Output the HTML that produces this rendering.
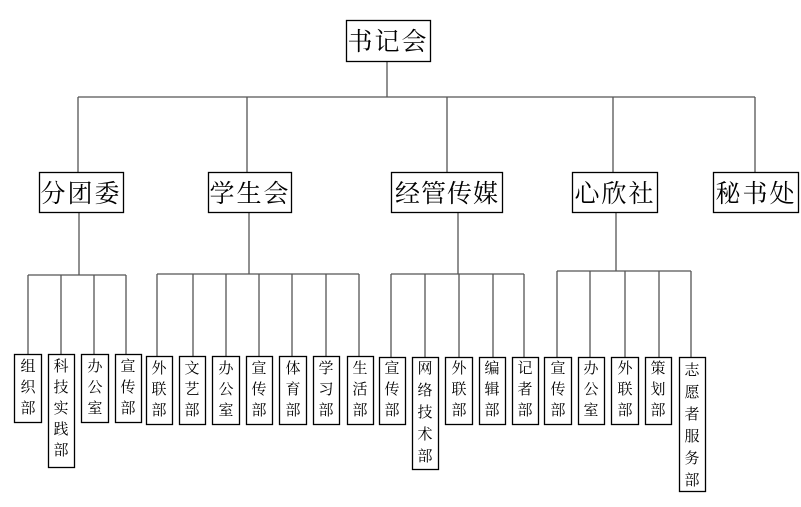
<!DOCTYPE html>
<html><head><meta charset="utf-8"><style>
html,body{margin:0;padding:0;background:#fff;width:801px;height:507px;overflow:hidden}
svg{display:block}
text{font-family:"Liberation Serif","Noto Serif CJK SC","Noto Sans CJK SC",serif;fill:#000}
</style></head><body>
<svg width="801" height="507" viewBox="0 0 801 507" xmlns="http://www.w3.org/2000/svg">
<g stroke="#555" stroke-width="1.3" fill="none">
<line x1="387" y1="61" x2="387" y2="97"/>
<line x1="78" y1="97" x2="755" y2="97"/>
<line x1="78" y1="97" x2="78" y2="172"/>
<line x1="247" y1="97" x2="247" y2="172"/>
<line x1="447" y1="97" x2="447" y2="172"/>
<line x1="613" y1="97" x2="613" y2="172"/>
<line x1="755" y1="97" x2="755" y2="172"/>
<line x1="79" y1="212" x2="79" y2="275"/>
<line x1="28" y1="275" x2="126" y2="275"/>
<line x1="28" y1="275" x2="28" y2="354"/><line x1="61" y1="275" x2="61" y2="354"/><line x1="94" y1="275" x2="94" y2="354"/><line x1="126" y1="275" x2="126" y2="354"/>
<line x1="249" y1="212" x2="249" y2="274"/>
<line x1="157" y1="274" x2="359" y2="274"/>
<line x1="157" y1="274" x2="157" y2="356"/><line x1="193" y1="274" x2="193" y2="356"/><line x1="226" y1="274" x2="226" y2="356"/><line x1="259" y1="274" x2="259" y2="356"/><line x1="292" y1="274" x2="292" y2="356"/><line x1="326" y1="274" x2="326" y2="356"/><line x1="359" y1="274" x2="359" y2="356"/>
<line x1="458" y1="212" x2="458" y2="274"/>
<line x1="391" y1="274" x2="524" y2="274"/>
<line x1="391" y1="274" x2="391" y2="357"/><line x1="425" y1="274" x2="425" y2="357"/><line x1="459" y1="274" x2="459" y2="357"/><line x1="493" y1="274" x2="493" y2="357"/><line x1="524" y1="274" x2="524" y2="357"/>
<line x1="616" y1="212" x2="616" y2="271"/>
<line x1="557" y1="271" x2="691" y2="271"/>
<line x1="557" y1="271" x2="557" y2="357"/><line x1="590" y1="271" x2="590" y2="357"/><line x1="625" y1="271" x2="625" y2="357"/><line x1="659" y1="271" x2="659" y2="357"/><line x1="691" y1="271" x2="691" y2="357"/>
</g>
<g stroke="#000" stroke-width="1.3" fill="#fff">
<rect x="346.5" y="20.5" width="84" height="41"/>
<rect x="39.5" y="172.5" width="84" height="40"/>
<rect x="208.5" y="172.5" width="83" height="40"/>
<rect x="391.5" y="172.5" width="111" height="40"/>
<rect x="572.5" y="172.5" width="85" height="40"/>
<rect x="713.5" y="172.5" width="85" height="40"/>
</g>
<g font-size="25" text-anchor="middle">
<text x="388" y="50" letter-spacing="2">书记会</text>
<text x="81" y="202" letter-spacing="2">分团委</text>
<text x="250" y="202" letter-spacing="2">学生会</text>
<text x="447" y="202" letter-spacing="1">经管传媒</text>
<text x="615" y="202" letter-spacing="2">心欣社</text>
<text x="756" y="202" letter-spacing="2">秘书处</text>
</g>
<g stroke="#000" stroke-width="1.3" fill="#fff">
<rect x="14.5" y="354.5" width="27" height="68"/>
<rect x="48.5" y="354.5" width="26" height="113"/>
<rect x="81.5" y="354.5" width="27" height="68"/>
<rect x="115.5" y="354.5" width="26" height="68"/>
<rect x="146.5" y="356.5" width="26" height="68"/>
<rect x="179.5" y="356.5" width="26" height="68"/>
<rect x="212.5" y="356.5" width="27" height="68"/>
<rect x="246.5" y="356.5" width="26" height="68"/>
<rect x="279.5" y="356.5" width="27" height="68"/>
<rect x="313.5" y="356.5" width="26" height="68"/>
<rect x="347.5" y="356.5" width="26" height="68"/>
<rect x="379.5" y="357.5" width="26" height="67"/>
<rect x="412.5" y="357.5" width="26" height="112"/>
<rect x="445.5" y="357.5" width="27" height="67"/>
<rect x="479.5" y="357.5" width="26" height="67"/>
<rect x="512.5" y="357.5" width="26" height="67"/>
<rect x="544.5" y="357.5" width="27" height="67"/>
<rect x="578.5" y="357.5" width="26" height="67"/>
<rect x="611.5" y="357.5" width="27" height="67"/>
<rect x="645.5" y="357.5" width="26" height="67"/>
<rect x="679.5" y="357.5" width="26" height="134"/>
</g>
<g font-size="15" text-anchor="middle">
<text x="28" y="371"><tspan x="28">组</tspan><tspan x="28" dy="21">织</tspan><tspan x="28" dy="21">部</tspan></text>
<text x="61" y="371"><tspan x="61">科</tspan><tspan x="61" dy="21">技</tspan><tspan x="61" dy="21">实</tspan><tspan x="61" dy="21">践</tspan><tspan x="61" dy="21">部</tspan></text>
<text x="95" y="371"><tspan x="95">办</tspan><tspan x="95" dy="21">公</tspan><tspan x="95" dy="21">室</tspan></text>
<text x="128" y="371"><tspan x="128">宣</tspan><tspan x="128" dy="21">传</tspan><tspan x="128" dy="21">部</tspan></text>
<text y="373"><tspan x="159">外</tspan><tspan x="159" dy="21">联</tspan><tspan x="159" dy="21">部</tspan></text>
<text y="373"><tspan x="192">文</tspan><tspan x="192" dy="21">艺</tspan><tspan x="192" dy="21">部</tspan></text>
<text y="373"><tspan x="226">办</tspan><tspan x="226" dy="21">公</tspan><tspan x="226" dy="21">室</tspan></text>
<text y="373"><tspan x="259">宣</tspan><tspan x="259" dy="21">传</tspan><tspan x="259" dy="21">部</tspan></text>
<text y="373"><tspan x="293">体</tspan><tspan x="293" dy="21">育</tspan><tspan x="293" dy="21">部</tspan></text>
<text y="373"><tspan x="326">学</tspan><tspan x="326" dy="21">习</tspan><tspan x="326" dy="21">部</tspan></text>
<text y="373"><tspan x="360">生</tspan><tspan x="360" dy="21">活</tspan><tspan x="360" dy="21">部</tspan></text>
<text y="373"><tspan x="392">宣</tspan><tspan x="392" dy="21">传</tspan><tspan x="392" dy="21">部</tspan></text>
<text y="373"><tspan x="425">网</tspan><tspan x="425" dy="22">络</tspan><tspan x="425" dy="22">技</tspan><tspan x="425" dy="22">术</tspan><tspan x="425" dy="22">部</tspan></text>
<text y="373"><tspan x="459">外</tspan><tspan x="459" dy="21">联</tspan><tspan x="459" dy="21">部</tspan></text>
<text y="373"><tspan x="492">编</tspan><tspan x="492" dy="21">辑</tspan><tspan x="492" dy="21">部</tspan></text>
<text y="373"><tspan x="525">记</tspan><tspan x="525" dy="21">者</tspan><tspan x="525" dy="21">部</tspan></text>
<text y="373"><tspan x="558">宣</tspan><tspan x="558" dy="21">传</tspan><tspan x="558" dy="21">部</tspan></text>
<text y="373"><tspan x="591">办</tspan><tspan x="591" dy="21">公</tspan><tspan x="591" dy="21">室</tspan></text>
<text y="373"><tspan x="625">外</tspan><tspan x="625" dy="21">联</tspan><tspan x="625" dy="21">部</tspan></text>
<text y="373"><tspan x="658">策</tspan><tspan x="658" dy="21">划</tspan><tspan x="658" dy="21">部</tspan></text>
<text y="375"><tspan x="692">志</tspan><tspan x="692" dy="22">愿</tspan><tspan x="692" dy="22">者</tspan><tspan x="692" dy="22">服</tspan><tspan x="692" dy="22">务</tspan><tspan x="692" dy="22">部</tspan></text>
</g>
</svg>
</body></html>
